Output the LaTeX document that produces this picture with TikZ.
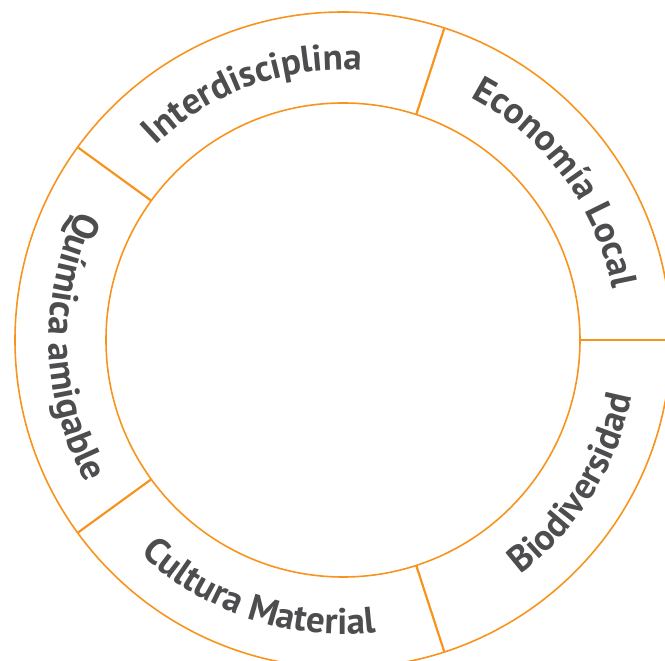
\documentclass[tikz,border=0pt]{standalone}
\usepackage{fontspec}
\setmainfont{PT Sans}
\usetikzlibrary{decorations.text}
\definecolor{ringline}{HTML}{F7941D}
\definecolor{ringtext}{HTML}{4D4D4F}
\newcommand\ringfont{\fontsize{37}{37}\selectfont\bfseries\color{ringtext}}
\tikzset{
  ringcircle/.style={draw=ringline, line width=1.6pt},
  divider/.style={draw=ringline, line width=2.2pt},
  ringlabel/.style={decorate, decoration={text along path, text align=center,
      text={|\ringfont|#1}}}
}
\begin{document}
\begin{tikzpicture}[x=1pt,y=1pt]
  \useasboundingbox (-343,-321) rectangle (322,340);
  \coordinate (O) at (0,0);
  % ring outlines
  \draw[ringcircle] (O) circle[radius=328pt];
  \draw[ringcircle] (O) circle[radius=237pt];
  % five dividers between the sectors
  \foreach \a in {0,72,144,216,288}{
    \draw[divider] (\a:237pt) -- (\a:328pt);
  }
  % labels on the upper arcs, read clockwise
  \path[ringlabel=Interdisciplina] (170:270pt) arc[start angle=170, end angle=50, radius=270pt];
  \path[ringlabel={Economía Local}] (96.5:274pt) arc[start angle=96.5, end angle=-23.5, radius=274pt];
  % labels on the lower arcs, read counter-clockwise
  \path[ringlabel=Biodiversidad] (-92:294pt) arc[start angle=-92, end angle=28, radius=294pt];
  \path[ringlabel={Cultura Material}] (191.5:294pt) arc[start angle=191.5, end angle=311.5, radius=294pt];
  \path[ringlabel={Química amigable}] (121.5:294pt) arc[start angle=121.5, end angle=241.5, radius=294pt];
\end{tikzpicture}
\end{document}
